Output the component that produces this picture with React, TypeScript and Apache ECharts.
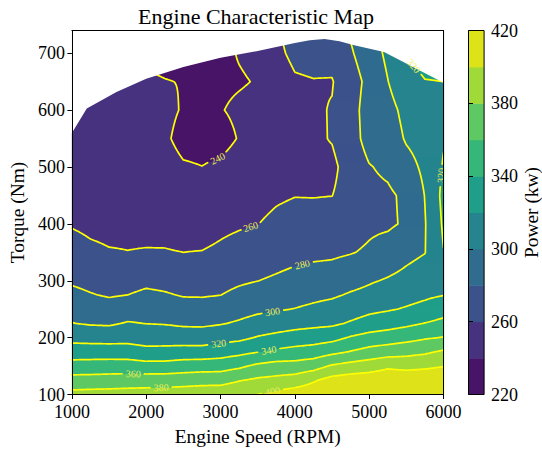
import React, { useEffect, useRef } from 'react';
import * as echarts from 'echarts';

// ---------------- data ----------------
const speedRPM = [1000, 1250, 1500, 1750, 2000, 2250, 2500, 2750, 3000, 3250, 3500, 3750, 4000, 4250, 4500, 4750, 5000, 5250, 5500, 5750, 6000];
const torqueNm = [100, 125, 150, 175, 200, 225, 250, 275, 300, 350, 400, 450, 500, 550, 600, 650, 700, 750];

// power (kW) at each torque row, one array per engine speed
const powerAt1000 = [386, 367.4, 348, 329.7, 314.1, 300.5, 292.4, 284.4, 277.8, 267.9, 258.5, 255, 252.5, 251, 250, 249, 249, 249];
const powerAt1250 = [387, 367.7, 348.5, 330, 312.9, 298.3, 289.7, 281, 275.2, 263.5, 256, 254, 252, 250, 249, 248, 248, 248];
const powerAt1500 = [387.5, 368.5, 349.2, 330, 312.3, 297.6, 287.3, 278.4, 272.6, 261.1, 255, 253, 251, 249, 247.5, 246, 245, 245];
const powerAt1750 = [388.5, 369.2, 349.6, 329.2, 313.3, 301.4, 290.6, 280, 273.4, 260.3, 256, 252.5, 249, 247, 245, 243.5, 242.5, 242];
const powerAt2000 = [389, 370, 347.4, 325.6, 311.4, 299.7, 291.6, 283.5, 276, 261, 255, 251.5, 248.5, 246, 244, 242, 237, 235];
const powerAt2250 = [389.5, 370.4, 347.4, 326.2, 311.3, 299, 290.3, 281.7, 274.5, 260.8, 255.5, 251.5, 248, 243, 244.5, 240.5, 236, 234];
const powerAt2500 = [391, 371.2, 350, 327.8, 310.3, 297, 287.5, 278.8, 272.5, 260, 254, 248, 242, 234, 238.5, 239.5, 235, 234];
const powerAt2750 = [392, 372.8, 351, 327.8, 310, 296.6, 287.2, 278.6, 272.5, 260.5, 252.5, 246.5, 240.2, 234, 234, 232, 231, 230];
const powerAt3000 = [393, 373, 351.7, 330.8, 312.9, 298.8, 289.2, 279.8, 274.2, 263.1, 256, 249.5, 243, 234, 239.2, 237, 236, 236];
const powerAt3250 = [396, 379, 356.4, 334.6, 315.4, 302.3, 292.9, 284.4, 277.4, 266.5, 258, 253, 248, 241, 243, 238.5, 241, 241];
const powerAt3500 = [400, 383.3, 364, 339.3, 321.4, 307.2, 296.1, 287.9, 279.8, 269.7, 259.7, 254, 250, 247, 245, 241, 244, 245];
const powerAt3750 = [405.6, 385.6, 367.7, 343.8, 325, 310.5, 298.4, 290.5, 282.5, 272.4, 264, 257.5, 255.5, 254, 253, 253, 257, 259];
const powerAt4000 = [410, 389, 367.7, 347, 328.3, 313.3, 300.5, 292.8, 285.4, 274.9, 267, 259.5, 257, 256, 256, 258.5, 263, 266];
const powerAt4250 = [412, 398, 371.7, 349.2, 330.8, 315, 303.6, 295.4, 287.8, 276, 267.3, 259.3, 257.5, 257, 257.5, 259.5, 264, 267];
const powerAt4500 = [415, 407, 382.4, 355, 333.9, 316.5, 306.7, 297.5, 289.5, 276.7, 268.3, 259.8, 256, 261, 261, 259, 266, 269];
const powerAt4750 = [416, 410, 387.4, 361, 341.7, 322, 310.8, 301.9, 293.7, 279, 272, 267, 268, 272, 273, 272, 278, 283];
const powerAt5000 = [417, 411, 391, 366.7, 347.3, 327.6, 315.6, 305, 298.1, 282.5, 276.5, 275.5, 279, 287, 288, 285, 290, 293];
const powerAt5250 = [417, 413, 396.8, 370.5, 350, 331.7, 318.3, 310.2, 301.7, 288.3, 277, 277, 283.5, 289, 293, 299.5, 304, 308];
const powerAt5500 = [417, 414, 394.2, 373.6, 353.6, 335.8, 321.6, 313.5, 305.5, 295, 282.5, 283.5, 293, 302, 306, 315, 321, 324];
const powerAt5750 = [417, 415, 396, 377, 357.9, 340.5, 325.3, 316.9, 309.9, 299.5, 299, 300.5, 304, 308, 311, 319.5, 325, 328];
const powerAt6000 = [417, 416, 399.3, 382.6, 360.9, 345.5, 331.6, 319.5, 316, 319.5, 322.5, 325, 321.5, 318.5, 318, 320, 325, 328];

const powerBySpeed = [
  powerAt1000, powerAt1250, powerAt1500, powerAt1750, powerAt2000, powerAt2250, powerAt2500,
  powerAt2750, powerAt3000, powerAt3250, powerAt3500, powerAt3750, powerAt4000, powerAt4250,
  powerAt4500, powerAt4750, powerAt5000, powerAt5250, powerAt5500, powerAt5750, powerAt6000,
];

// full-load (max torque) curve bounding the map
const maxTorqueSpeed = [1000, 1200, 1600, 2000, 2500, 3000, 3500, 4000, 4200, 4400, 4600, 4800, 5200, 6000];
const maxTorqueNm = [560, 603, 632, 655, 676, 692, 704, 718, 723, 725, 721, 714, 702, 648];

const fillLevels = [220, 240, 260, 280, 300, 320, 340, 360, 380, 400, 420];
const lineLevels = [240, 260, 280, 300, 320, 340, 360, 380, 400];
const speedTicks = [1000, 2000, 3000, 4000, 5000, 6000];
const torqueTicks = [100, 200, 300, 400, 500, 600, 700];
const powerTicks = [220, 260, 300, 340, 380, 420];

// ---------------- styling / layout ----------------
const bandColors = ['#481467', '#46327e', '#3b528b', '#2f6c8e', '#25848e', '#1f9e89', '#35b779', '#5ec962', '#a0da39', '#dde318'];
const FONT = "'Liberation Serif', 'Times New Roman', serif";
const X_MIN = 1000, X_MAX = 6000, Y_MIN = 100, Y_MAX = 740;

// where the inline contour labels sit (near these spots on their own level)
const labelSpots = [
  { level: 240, x: 2953, y: 518 },
  { level: 260, x: 3407, y: 394 },
  { level: 280, x: 4109, y: 322 },
  { level: 300, x: 3709, y: 246 },
  { level: 320, x: 2987, y: 187 },
  { level: 340, x: 3653, y: 178 },
  { level: 360, x: 1820, y: 136 },
  { level: 380, x: 2211, y: 113 },
  { level: 400, x: 3700, y: 104 },
  { level: 320, x: 5553, y: 672 },
  { level: 320, x: 5976, y: 484 },
];

type Pt = [number, number];

function powerAt(x: number, y: number): number {
  const step = speedRPM[1] - speedRPM[0];
  const fx = (x - speedRPM[0]) / step;
  let i = Math.floor(fx);
  if (i < 0) i = 0;
  if (i > speedRPM.length - 2) i = speedRPM.length - 2;
  const tx = Math.min(1, Math.max(0, fx - i));
  let j = 0;
  while (j < torqueNm.length - 2 && y > torqueNm[j + 1]) j++;
  const ty = Math.min(1, Math.max(0, (y - torqueNm[j]) / (torqueNm[j + 1] - torqueNm[j])));
  const c0 = powerBySpeed[i], c1 = powerBySpeed[i + 1];
  const a = c0[j] * (1 - ty) + c0[j + 1] * ty;
  const b = c1[j] * (1 - ty) + c1[j + 1] * ty;
  return a * (1 - tx) + b * tx;
}

function bandOf(v: number): number {
  let k = Math.floor((v - fillLevels[0]) / (fillLevels[1] - fillLevels[0]));
  if (k < 0) k = 0;
  if (k > bandColors.length - 1) k = bandColors.length - 1;
  return k;
}

interface Cross { id: number; p: Pt }

function chainSegments(segs: [Cross, Cross][]): Pt[][] {
  const byEdge = new Map<number, number[]>();
  const add = (id: number, k: number) => {
    const l = byEdge.get(id);
    if (l) l.push(k); else byEdge.set(id, [k]);
  };
  segs.forEach((s, k) => { add(s[0].id, k); add(s[1].id, k); });
  const used = new Uint8Array(segs.length);
  const walk = (startEdge: number): Pt[] => {
    const pts: Pt[] = [];
    let edge = startEdge;
    for (;;) {
      const list = byEdge.get(edge);
      let nk = -1;
      if (list) for (const m of list) if (!used[m]) { nk = m; break; }
      if (nk < 0) break;
      used[nk] = 1;
      const s = segs[nk];
      const next = s[0].id === edge ? s[1] : s[0];
      pts.push(next.p);
      edge = next.id;
    }
    return pts;
  };
  const out: Pt[][] = [];
  for (let k = 0; k < segs.length; k++) {
    if (used[k]) continue;
    used[k] = 1;
    const s = segs[k];
    const fwd = walk(s[1].id);
    const back = walk(s[0].id);
    out.push([...back.reverse(), s[0].p, s[1].p, ...fwd]);
  }
  return out;
}

function buildContours(): Map<number, Pt[][]> {
  const NX = 201, NY = 257;
  const dx = (X_MAX - X_MIN) / (NX - 1), dy = (Y_MAX - Y_MIN) / (NY - 1);
  const v = new Float64Array(NX * NY);
  for (let j = 0; j < NY; j++) for (let i = 0; i < NX; i++) v[j * NX + i] = powerAt(X_MIN + i * dx, Y_MIN + j * dy);
  const res = new Map<number, Pt[][]>();
  for (const L of lineLevels) {
    const segs: [Cross, Cross][] = [];
    for (let j = 0; j < NY - 1; j++) {
      for (let i = 0; i < NX - 1; i++) {
        const a = v[j * NX + i], b = v[j * NX + i + 1], c = v[(j + 1) * NX + i + 1], d = v[(j + 1) * NX + i];
        const e: Cross[] = [];
        if ((a >= L) !== (b >= L)) { const t = (L - a) / (b - a); e.push({ id: (j * NX + i) * 2, p: [X_MIN + (i + t) * dx, Y_MIN + j * dy] }); }
        if ((b >= L) !== (c >= L)) { const t = (L - b) / (c - b); e.push({ id: (j * NX + i + 1) * 2 + 1, p: [X_MIN + (i + 1) * dx, Y_MIN + (j + t) * dy] }); }
        if ((d >= L) !== (c >= L)) { const t = (L - d) / (c - d); e.push({ id: ((j + 1) * NX + i) * 2, p: [X_MIN + (i + t) * dx, Y_MIN + (j + 1) * dy] }); }
        if ((a >= L) !== (d >= L)) { const t = (L - a) / (d - a); e.push({ id: (j * NX + i) * 2 + 1, p: [X_MIN + i * dx, Y_MIN + (j + t) * dy] }); }
        if (e.length === 2) segs.push([e[0], e[1]]);
        else if (e.length === 4) { segs.push([e[0], e[1]]); segs.push([e[2], e[3]]); }
      }
    }
    res.set(L, chainSegments(segs));
  }
  return res;
}

const contourPaths = buildContours();

interface Placed { level: number; cx: number; cy: number; rot: number; r: number }

function pixelPaths(api: any): Map<number, number[][][]> {
  const m = new Map<number, number[][][]>();
  for (const L of lineLevels) m.set(L, (contourPaths.get(L) || []).map((pl) => pl.map((p) => api.coord(p))));
  return m;
}

function placeLabels(px: Map<number, number[][][]>, api: any): Placed[] {
  return labelSpots.map((s) => {
    const a = api.coord([s.x, s.y]);
    let best: number[][] | null = null, bi = 0, bd = Infinity;
    for (const pl of px.get(s.level) || []) {
      for (let k = 0; k < pl.length; k++) {
        const d = (pl[k][0] - a[0]) ** 2 + (pl[k][1] - a[1]) ** 2;
        if (d < bd) { bd = d; best = pl; bi = k; }
      }
    }
    if (!best) return { level: s.level, cx: a[0], cy: a[1], rot: 0, r: 0 };
    const p0 = best[Math.max(0, bi - 4)], p1 = best[Math.min(best.length - 1, bi + 4)];
    let ang = Math.atan2(p1[1] - p0[1], p1[0] - p0[0]);
    if (ang > Math.PI / 2) ang -= Math.PI;
    if (ang < -Math.PI / 2) ang += Math.PI;
    return { level: s.level, cx: best[bi][0], cy: best[bi][1], rot: -ang, r: 10 };
  });
}

function buildOption(): any {
  const axisLineStyle = { color: '#000', width: 1 };
  const plain = (v: number) => String(v);
  return {
    animation: false,
    backgroundColor: '#fff',
    graphic: [
      {
        type: 'text', x: 256, y: 16,
        style: { text: 'Engine Characteristic Map', fontSize: 22, fontFamily: FONT, fill: '#000', align: 'center', verticalAlign: 'middle' },
      },
    ],
    grid: [
      { left: 68.5, top: 30.5, width: 375, height: 364 },
      { left: 468.5, top: 30.5, width: 17.5, height: 364 },
    ],
    xAxis: [
      {
        gridIndex: 0, type: 'value', min: X_MIN, max: X_MAX, position: 'bottom', z: 10,
        axisLine: { show: true, onZero: false, lineStyle: axisLineStyle },
        axisTick: { show: true, customValues: speedTicks, length: 4.5, lineStyle: { color: '#000' } },
        axisLabel: { customValues: speedTicks, formatter: plain, color: '#000', fontSize: 18, fontFamily: FONT, margin: 8 },
        splitLine: { show: false },
        name: 'Engine Speed (RPM)', nameLocation: 'middle', nameGap: 32,
        nameTextStyle: { color: '#000', fontSize: 19.4, fontFamily: FONT },
      },
      {
        gridIndex: 0, type: 'value', min: X_MIN, max: X_MAX, position: 'top', z: 10,
        axisLine: { show: true, onZero: false, lineStyle: axisLineStyle },
        axisTick: { show: false }, axisLabel: { show: false }, splitLine: { show: false },
      },
      { gridIndex: 1, type: 'value', min: 0, max: 1, show: false },
    ],
    yAxis: [
      {
        gridIndex: 0, type: 'value', min: Y_MIN, max: Y_MAX, position: 'left', z: 10,
        axisLine: { show: true, onZero: false, lineStyle: axisLineStyle },
        axisTick: { show: true, customValues: torqueTicks, length: 4.5, lineStyle: { color: '#000' } },
        axisLabel: { customValues: torqueTicks, formatter: plain, color: '#000', fontSize: 18, fontFamily: FONT, margin: 7 },
        splitLine: { show: false },
        name: 'Torque (Nm)', nameLocation: 'middle', nameGap: 42, nameRotate: 90,
        nameTextStyle: { color: '#000', fontSize: 19.4, fontFamily: FONT },
      },
      {
        gridIndex: 0, type: 'value', min: Y_MIN, max: Y_MAX, position: 'right', z: 10,
        axisLine: { show: true, onZero: false, lineStyle: axisLineStyle },
        axisTick: { show: false }, axisLabel: { show: false }, splitLine: { show: false },
      },
      {
        gridIndex: 1, type: 'value', min: 220, max: 420, position: 'right', z: 10,
        axisLine: { show: false },
        axisTick: { show: true, customValues: powerTicks, length: 4.5, lineStyle: { color: '#000' } },
        axisLabel: { customValues: powerTicks, formatter: plain, color: '#000', fontSize: 18, fontFamily: FONT, margin: 7 },
        splitLine: { show: false },
        name: 'Power (kw)', nameLocation: 'middle', nameGap: 32, nameRotate: 90,
        nameTextStyle: { color: '#000', fontSize: 19.4, fontFamily: FONT },
      },
    ],
    series: [
      {
        // filled contour bands
        type: 'custom', xAxisIndex: 0, yAxisIndex: 0, z: 1, silent: true,
        data: [[X_MIN, Y_MIN]],
        renderItem: (_p: any, api: any) => {
          const nx = 375, ny = 364;
          const children: any[] = [];
          const xAt = (c: number) => X_MIN + (c / nx) * (X_MAX - X_MIN);
          for (let r = 0; r < ny; r++) {
            const y0 = Y_MIN + (r / ny) * (Y_MAX - Y_MIN);
            const y1 = Y_MIN + ((r + 1) / ny) * (Y_MAX - Y_MIN);
            const yc = (y0 + y1) / 2;
            let start = 0;
            let band = bandOf(powerAt(xAt(0.5), yc));
            for (let c = 1; c <= nx; c++) {
              const b = c < nx ? bandOf(powerAt(xAt(c + 0.5), yc)) : -1;
              if (b !== band) {
                const p0 = api.coord([xAt(start), y1]);
                const p1 = api.coord([xAt(c), y0]);
                children.push({
                  type: 'rect',
                  shape: { x: p0[0], y: p0[1], width: p1[0] - p0[0] + 0.6, height: p1[1] - p0[1] + 0.6 },
                  style: { fill: bandColors[band] },
                });
                start = c;
                band = b;
              }
            }
          }
          return { type: 'group', children };
        },
      },
      {
        // contour lines
        type: 'custom', xAxisIndex: 0, yAxisIndex: 0, z: 2, silent: true,
        data: [[X_MIN, Y_MIN]],
        renderItem: (_p: any, api: any) => {
          const px = pixelPaths(api);
          const labels = placeLabels(px, api);
          const children: any[] = [];
          const poly = (pts: number[][]) => ({
            type: 'polyline', shape: { points: pts },
            style: { stroke: '#ffff00', lineWidth: 1.7, fill: 'none', lineJoin: 'round', lineCap: 'round' },
          });
          for (const L of lineLevels) {
            const mine = labels.filter((l) => l.level === L);
            for (const pts of px.get(L) || []) {
              let cur: number[][] = [];
              for (const p of pts) {
                const hidden = mine.some((l) => Math.hypot(p[0] - l.cx, p[1] - l.cy) < l.r);
                if (hidden) {
                  if (cur.length > 1) children.push(poly(cur));
                  cur = [];
                } else cur.push(p);
              }
              if (cur.length > 1) children.push(poly(cur));
            }
          }
          return { type: 'group', children };
        },
      },
      {
        // blank out the area above the full-load curve
        type: 'custom', xAxisIndex: 0, yAxisIndex: 0, z: 3, silent: true,
        data: [[X_MIN, Y_MIN]],
        renderItem: (_p: any, api: any) => {
          const pts: number[][] = [];
          pts.push(api.coord([X_MIN - 10, Y_MAX]));
          pts.push(api.coord([X_MIN - 10, maxTorqueNm[0]]));
          maxTorqueSpeed.forEach((s, k) => pts.push(api.coord([s, maxTorqueNm[k]])));
          pts.push(api.coord([X_MAX + 10, maxTorqueNm[maxTorqueNm.length - 1]]));
          pts.push(api.coord([X_MAX + 10, Y_MAX]));
          return { type: 'polygon', shape: { points: pts }, style: { fill: '#ffffff' } };
        },
      },
      {
        // inline contour labels
        type: 'custom', xAxisIndex: 0, yAxisIndex: 0, z: 4, silent: true,
        data: [[X_MIN, Y_MIN]],
        renderItem: (_p: any, api: any) => {
          const px = pixelPaths(api);
          const labels = placeLabels(px, api);
          return {
            type: 'group',
            children: labels.map((l) => ({
              type: 'text', x: l.cx, y: l.cy, rotation: l.rot,
              style: { text: String(l.level), fontSize: 10, fontFamily: FONT, fill: '#eeee55', align: 'center', verticalAlign: 'middle' },
            })),
          };
        },
      },
      {
        // colour bar
        type: 'custom', xAxisIndex: 2, yAxisIndex: 2, z: 2, silent: true,
        data: [[0, 220]],
        renderItem: (_p: any, api: any) => {
          const children: any[] = bandColors.map((col, k) => {
            const p0 = api.coord([0, fillLevels[k + 1]]);
            const p1 = api.coord([1, fillLevels[k]]);
            return { type: 'rect', shape: { x: p0[0], y: p0[1], width: p1[0] - p0[0], height: p1[1] - p0[1] + 0.5 }, style: { fill: col } };
          });
          const tl = api.coord([0, 420]), br = api.coord([1, 220]);
          children.push({
            type: 'rect', shape: { x: tl[0], y: tl[1], width: br[0] - tl[0], height: br[1] - tl[1] },
            style: { fill: 'none', stroke: '#000', lineWidth: 1 },
          });
          return { type: 'group', children };
        },
      },
    ],
  };
}

export default function App() {
  const ref = useRef<HTMLDivElement>(null);
  useEffect(() => {
    document.body.style.margin = '0';
    const chart = echarts.init(ref.current as HTMLDivElement, null, { renderer: 'svg' });
    chart.setOption(buildOption());
    return () => chart.dispose();
  }, []);
  return <div ref={ref} style={{ width: 542, height: 452 }} />;
}
